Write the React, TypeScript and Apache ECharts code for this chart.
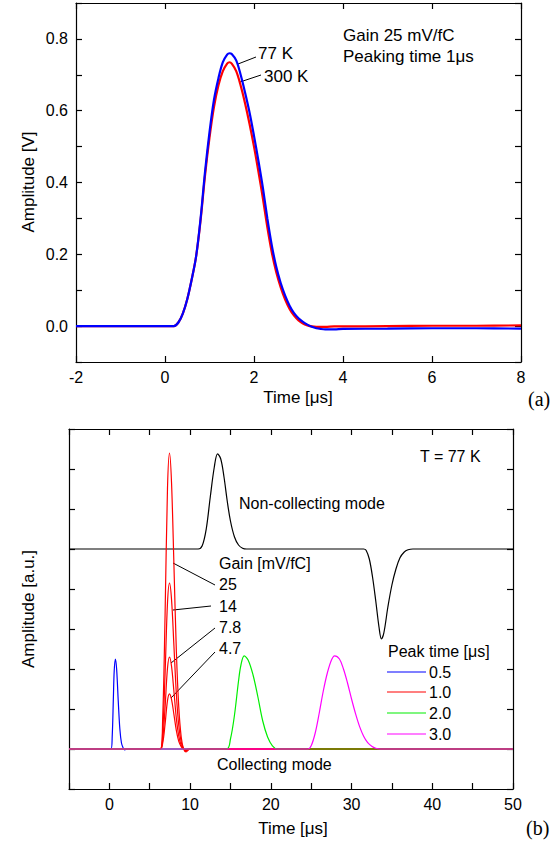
import React, { useEffect, useRef } from "react";
import * as echarts from "echarts";

// ---- Panel (a) data ----
const aTime = [-2, -1, 0, 0.2, 0.3, 0.4, 0.5, 0.6, 0.7, 0.8, 0.9, 1.0, 1.1, 1.2, 1.3, 1.4, 1.45, 1.5, 1.6, 1.7, 1.8, 1.9, 2.0, 2.1, 2.2, 2.3, 2.4, 2.5, 2.6, 2.7, 2.8, 2.9, 3.0, 3.1, 3.2, 3.3, 3.4, 3.5, 3.6, 3.8, 4.0, 5.0, 6.0, 7.0, 8.0];
const a77K = [0, 0, 0, 0, 0.01, 0.035, 0.075, 0.13, 0.195, 0.3, 0.43, 0.54, 0.63, 0.69, 0.735, 0.757, 0.76, 0.758, 0.74, 0.70, 0.65, 0.595, 0.53, 0.46, 0.385, 0.3, 0.225, 0.165, 0.12, 0.085, 0.057, 0.036, 0.022, 0.012, 0.004, -0.002, -0.006, -0.008, -0.009, -0.009, -0.008, -0.007, -0.006, -0.006, -0.007];
const a300K = [0, 0, 0, 0, 0.01, 0.035, 0.075, 0.13, 0.195, 0.295, 0.42, 0.525, 0.61, 0.67, 0.71, 0.732, 0.735, 0.731, 0.71, 0.67, 0.62, 0.563, 0.5, 0.43, 0.355, 0.275, 0.205, 0.15, 0.108, 0.074, 0.048, 0.029, 0.016, 0.007, 0.002, -0.001, -0.002, -0.002, -0.002, -0.001, -0.001, 0.0, 0.001, 0.001, 0.002];

// ---- Panel (b) data ----
const ncTime = [-5, 11.0, 11.5, 12.0, 12.5, 13.0, 13.4, 13.8, 14.2, 14.6, 15.0, 15.5, 16.0, 16.5, 17.0, 31.5, 31.8, 32.2, 32.6, 33.0, 33.4, 33.7, 34.0, 34.5, 35.0, 35.5, 36.0, 36.5, 37.0, 37.6, 50];
const ncVal = [5, 5, 5.08, 5.5, 6.3, 7.05, 7.38, 7.25, 6.8, 6.2, 5.7, 5.3, 5.1, 5.02, 5, 5, 4.97, 4.75, 4.3, 3.7, 3.05, 2.75, 2.9, 3.55, 4.1, 4.5, 4.78, 4.92, 4.98, 5, 5];

const p05Time = [-5, 0.2, 0.35, 0.5, 0.6, 0.75, 0.9, 1.1, 1.3, 1.5, 1.7, 1.9, 2.2, 50];
const p05Val = [0, 0, 0.3, 1.3, 1.95, 2.25, 2.0, 1.2, 0.5, 0.15, 0.03, -0.02, 0, 0];

const p10Time = [-5, 6.3, 6.6, 6.9, 7.2, 7.45, 7.7, 8.0, 8.3, 8.6, 8.9, 9.2, 9.5, 10.0, 50];
const p10Gain25 = [0, 0, 0.74, 3.33, 6.51, 7.4, 6.66, 4.59, 2.44, 1.04, 0.3, 0, -0.07, 0, 0];
const p10Gain14 = [0, 0, 0.42, 1.87, 3.65, 4.15, 3.74, 2.57, 1.37, 0.58, 0.17, 0, -0.04, 0, 0];
const p10Gain78 = [0, 0, 0.23, 1.04, 2.02, 2.3, 2.07, 1.43, 0.76, 0.32, 0.09, 0, -0.02, 0, 0];
const p10Gain47 = [0, 0, 0.14, 0.62, 1.21, 1.38, 1.24, 0.86, 0.46, 0.19, 0.06, 0, -0.01, 0, 0];

const p20Time = [-5, 14.5, 15.0, 15.5, 16.0, 16.3, 16.7, 17.2, 17.8, 18.4, 19.0, 19.6, 20.2, 20.8, 50];
const p20Val = [0, 0, 0.25, 0.85, 1.7, 2.1, 2.33, 2.22, 1.85, 1.3, 0.7, 0.3, 0.08, 0, 0];

const p30Time = [-5, 24.6, 25.0, 25.5, 26.0, 26.5, 27.0, 27.5, 27.9, 28.5, 29.0, 29.5, 30.0, 30.5, 31.0, 31.5, 32.0, 32.5, 33.0, 33.5, 50];
const p30Val = [0, 0, 0.08, 0.4, 0.9, 1.45, 1.9, 2.22, 2.33, 2.25, 2.0, 1.65, 1.25, 0.88, 0.56, 0.32, 0.16, 0.07, 0.02, 0, 0];

const legendLabels = ["0.5", "1.0", "2.0", "3.0"];
const legendColors = ["#0000ff", "#ff0000", "#00ee00", "#ff00ff"];
const gainLabels = ["25", "14", "7.8", "4.7"];

const zip = (xs: number[], ys: number[]) => xs.map((x, i) => [x, ys[i]]);

const SANS = "'Liberation Sans', Arial, sans-serif";
const SERIF = "'Liberation Serif', 'Times New Roman', serif";

function txt(text: string, x: number, y: number, opts: any = {}) {
  return {
    type: "text",
    x,
    y,
    rotation: opts.rotation || 0,
    style: {
      text,
      fill: "#000",
      fontSize: opts.fontSize || 16,
      fontFamily: opts.fontFamily || SANS,
      textAlign: opts.align || "left",
      textVerticalAlign: "middle",
    },
  };
}
function ln(x1: number, y1: number, x2: number, y2: number, color = "#000", w = 1) {
  return {
    type: "line",
    shape: { x1, y1, x2, y2 },
    style: { stroke: color, lineWidth: w },
  };
}

export default function App() {
  const ref = useRef<HTMLDivElement>(null);
  useEffect(() => {
    if (!ref.current) return;
    const chart = echarts.init(ref.current, undefined, { renderer: "svg" });
    const axisLine = { show: true, onZero: false, lineStyle: { color: "#000", width: 1.2 } };
    const tick = (len: number) => ({ show: true, inside: true, length: len, lineStyle: { color: "#000", width: 1.2 } });
    const lbl = (margin: number, formatter?: any) => ({
      show: true,
      color: "#000",
      fontSize: 16,
      fontFamily: SANS,
      margin,
      formatter,
    });
    const noLbl = { show: false };
    const yFmt = (v: number) => {
      const k = Math.round(v * 10);
      return k >= 0 && k <= 8 && k % 2 === 0 ? (k / 10).toFixed(1) : "";
    };
    const xbFmt = (v: number) => {
      const k = Math.round(v);
      return k >= 0 && k % 10 === 0 ? String(k) : "";
    };

    const graphics: any[] = [
      txt("Gain 25 mV/fC", 343, 35, { fontSize: 17 }),
      txt("Peaking time 1\u03bcs", 343, 56, { fontSize: 17 }),
      txt("77 K", 258, 53, { fontSize: 17 }),
      txt("300 K", 264, 76, { fontSize: 17 }),
      ln(238, 64, 256, 57),
      ln(240, 82, 261, 75),
      txt("Time [\u03bcs]", 298, 397, { align: "center", fontSize: 17 }),
      txt("(a)", 528, 399, { fontFamily: SERIF, fontSize: 20 }),
      txt("Amplitude [V]", 28, 182, { align: "center", rotation: Math.PI / 2, fontSize: 17 }),
      txt("T = 77 K", 420, 456),
      txt("Non-collecting mode", 239, 503),
      txt("Gain [mV/fC]", 219, 563),
      ln(173, 563, 215, 585),
      ln(173, 610, 211, 606),
      ln(171, 663, 215, 628),
      ln(171, 698, 215, 652),
      txt("Collecting mode", 217, 764),
      txt("Peak time [\u03bcs]", 388, 651),
      txt("Time [\u03bcs]", 293, 828, { align: "center", fontSize: 17 }),
      txt("(b)", 526, 828, { fontFamily: SERIF, fontSize: 20 }),
      txt("Amplitude [a.u.]", 28, 609, { align: "center", rotation: Math.PI / 2, fontSize: 17 }),
    ];
    const gainY = [584, 606, 627, 648];
    gainLabels.forEach((g, i) => graphics.push(txt(g, 219, gainY[i])));
    const legY = [672, 692, 713, 734];
    legendLabels.forEach((l, i) => {
      graphics.push(ln(387, legY[i], 426, legY[i], legendColors[i], 1.2));
      graphics.push(txt(l, 429, legY[i]));
    });

    const lineS = (name: string, data: any[], color: string, xi: number, yi: number, w: number) => ({
      name,
      type: "line",
      data,
      xAxisIndex: xi,
      yAxisIndex: yi,
      showSymbol: false,
      symbol: "none",
      smooth: 0.35,
      lineStyle: { color, width: w },
      itemStyle: { color },
      silent: true,
    });

    chart.setOption({
      animation: false,
      backgroundColor: "#fff",
      grid: [
        { left: 76, top: 3, width: 445, height: 359 },
        { left: 69, top: 429, width: 444, height: 360 },
      ],
      xAxis: [
        { gridIndex: 0, type: "value", min: -2, max: 8, interval: 2, position: "bottom", axisLine, axisTick: tick(6), axisLabel: lbl(7), splitLine: { show: false } },
        { gridIndex: 0, type: "value", min: -2, max: 8, interval: 2, position: "top", axisLine, axisTick: tick(6), axisLabel: noLbl, splitLine: { show: false } },
        { gridIndex: 1, type: "value", min: -5, max: 50, interval: 5, position: "bottom", axisLine, axisTick: tick(6), axisLabel: lbl(7, xbFmt), splitLine: { show: false } },
        { gridIndex: 1, type: "value", min: -5, max: 50, interval: 5, position: "top", axisLine, axisTick: tick(6), axisLabel: noLbl, splitLine: { show: false } },
      ],
      yAxis: [
        { gridIndex: 0, type: "value", min: -0.1, max: 0.9, interval: 0.1, position: "left", axisLine, axisTick: tick(6), axisLabel: lbl(8, yFmt), splitLine: { show: false } },
        { gridIndex: 0, type: "value", min: -0.1, max: 0.9, interval: 0.1, position: "right", axisLine, axisTick: tick(6), axisLabel: noLbl, splitLine: { show: false } },
        { gridIndex: 1, type: "value", min: -1, max: 8, interval: 1, position: "left", axisLine, axisTick: tick(6), axisLabel: noLbl, splitLine: { show: false } },
        { gridIndex: 1, type: "value", min: -1, max: 8, interval: 1, position: "right", axisLine, axisTick: tick(6), axisLabel: noLbl, splitLine: { show: false } },
      ],
      series: [
        lineS("300 K", zip(aTime, a300K), "#ff0000", 0, 0, 2.2),
        lineS("77 K", zip(aTime, a77K), "#0000ff", 0, 0, 2.2),
        lineS("Non-collecting", zip(ncTime, ncVal), "#000000", 2, 2, 1.2),
        lineS("0.5", zip(p05Time, p05Val), "#0000ff", 2, 2, 1.2),
        lineS("1.0", zip(p10Time, p10Gain25), "#ff0000", 2, 2, 1.2),
        lineS("1.0", zip(p10Time, p10Gain14), "#ff0000", 2, 2, 1.2),
        lineS("1.0", zip(p10Time, p10Gain78), "#ff0000", 2, 2, 1.2),
        lineS("1.0", zip(p10Time, p10Gain47), "#ff0000", 2, 2, 1.2),
        lineS("2.0", zip(p20Time, p20Val), "#00ee00", 2, 2, 1.2),
        lineS("3.0", zip(p30Time, p30Val), "#ff00ff", 2, 2, 1.2),
      ],
      graphic: graphics,
    });
    return () => chart.dispose();
  }, []);
  return (
    <div
      ref={ref}
      style={{ position: "absolute", left: 0, top: 0, width: 557, height: 841, background: "#fff" }}
    />
  );
}
